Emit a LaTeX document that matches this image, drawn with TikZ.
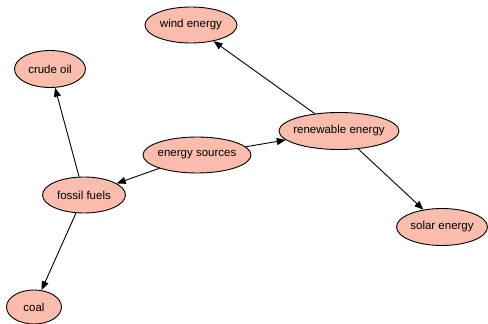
\documentclass[tikz,border=0pt]{standalone}
\usepackage{fontspec}
\setmainfont{Liberation Sans}
\usetikzlibrary{shapes.geometric,arrows.meta}
\definecolor{nodefill}{RGB}{250,188,172}
\begin{document}
\begin{tikzpicture}[x=1pt,y=1pt,
  ell/.style={ellipse,draw=black,fill=nodefill,line width=0.9pt,inner sep=0pt,
    label={[font=\fontsize{11.5}{13}\selectfont]center:#1}},
  edge/.style={draw=black,line width=0.9pt,-{Triangle[length=9pt,width=7pt]}}]
\useasboundingbox (0,0) rectangle (488,-324);
\node[ell={wind energy},minimum width=92pt,minimum height=36pt] (wind) at (191,-25) {};
\node[ell={crude oil},minimum width=71pt,minimum height=37pt] (crude) at (50,-69) {};
\node[ell={energy sources},minimum width=108pt,minimum height=36pt] (src) at (197,-155) {};
\node[ell={renewable energy},minimum width=120pt,minimum height=37pt] (ren) at (339,-131) {};
\node[ell={fossil fuels},minimum width=83pt,minimum height=36pt] (fos) at (84,-195) {};
\node[ell={coal},minimum width=55pt,minimum height=34pt] (coal) at (34,-307) {};
\node[ell={solar energy},minimum width=91pt,minimum height=37pt] (solar) at (442,-227) {};
\draw[edge] (src) -- (ren);
\draw[edge] (src) -- (fos);
\draw[edge] (ren) -- (wind);
\draw[edge] (ren) -- (solar);
\draw[edge] (fos) -- (crude);
\draw[edge] (fos) -- (coal);
\end{tikzpicture}
\end{document}
